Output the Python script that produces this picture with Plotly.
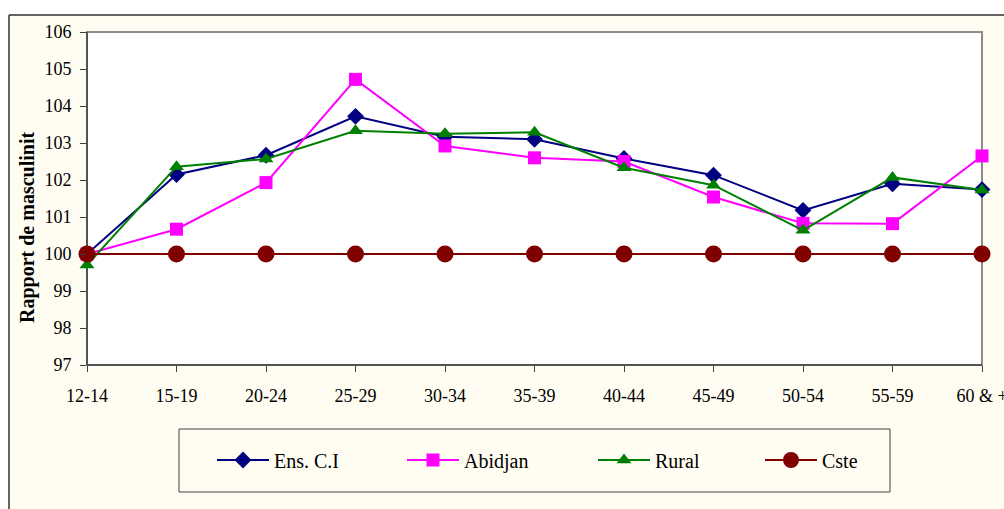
import plotly.graph_objects as go

# Age groups and sex ratios (males per 100 females)
age_groups = ["12-14", "15-19", "20-24", "25-29", "30-34", "35-39",
              "40-44", "45-49", "50-54", "55-59", "60 & +"]
ens_ci = [100.0, 102.15, 102.67, 103.72, 103.17, 103.1, 102.58, 102.13, 101.18, 101.9, 101.74]
abidjan = [100.0, 100.67, 101.93, 104.72, 102.92, 102.6, 102.5, 101.54, 100.83, 100.82, 102.65]
rural = [99.7, 102.36, 102.57, 103.33, 103.25, 103.29, 102.33, 101.86, 100.64, 102.07, 101.73]
cste = [100.0] * len(age_groups)
y_ticks = [97, 98, 99, 100, 101, 102, 103, 104, 105, 106]

W, H = 1004, 509
L, R, T, B = 87, 982, 32, 365   # plot area in pixels


def px(x):
    return (x - L) / (R - L)


def py(y):
    return (B - y) / (B - T)


SERIF = "Liberation Serif"
xs = list(range(len(age_groups)))

series = [
    ("Ens. C.I", ens_ci, "#000080", "diamond", 13, "legend", 212),
    ("Abidjan", abidjan, "#FF00FF", "square", 13, "legend2", 402),
    ("Rural", rural, "#008000", "triangle-up", 13, "legend3", 593),
    ("Cste", cste, "#800000", "circle", 17, "legend4", 760),
]

fig = go.Figure()
legends = {}
for name, vals, color, sym, size, leg, lx in series:
    fig.add_trace(go.Scatter(
        x=xs, y=vals, name=name, mode="lines+markers",
        line=dict(color=color, width=2),
        marker=dict(symbol=sym, size=size, color=color, line=dict(width=0)),
        cliponaxis=False, legend=leg,
    ))
    legends[leg] = dict(
        x=px(lx), xanchor="left", y=py(460), yanchor="middle",
        orientation="h", bgcolor="rgba(0,0,0,0)", borderwidth=0, itemwidth=52,
        font=dict(family=SERIF, size=20, color="black"),
    )

shapes = [
    # white surround outside the chart area
    dict(type="rect", xref="paper", yref="paper", x0=px(-5), x1=px(9), y0=py(W), y1=py(-5),
         fillcolor="white", line=dict(width=0), layer="below"),
    dict(type="rect", xref="paper", yref="paper", x0=px(-5), x1=px(W + 5), y0=py(15), y1=py(-5),
         fillcolor="white", line=dict(width=0), layer="below"),
    # chart area frame
    dict(type="line", xref="paper", yref="paper", x0=px(9), x1=px(9), y0=py(15), y1=py(W),
         line=dict(color="#303030", width=1.5)),
    dict(type="line", xref="paper", yref="paper", x0=px(9), x1=px(W + 5), y0=py(15), y1=py(15),
         line=dict(color="#303030", width=1.5)),
    # plot area frame
    dict(type="rect", xref="paper", yref="paper", x0=0, x1=1, y0=0, y1=1,
         line=dict(color="#8c8c8c", width=2), layer="below"),
    dict(type="line", xref="paper", yref="paper", x0=0, x1=0, y0=0, y1=1,
         line=dict(color="#404040", width=1.5), layer="below"),
    dict(type="line", xref="paper", yref="paper", x0=0, x1=1, y0=0, y1=0,
         line=dict(color="#404040", width=1.5), layer="below"),
    # legend box
    dict(type="rect", xref="paper", yref="paper", x0=px(179), x1=px(890), y0=py(492), y1=py(429),
         line=dict(color="#404040", width=1), fillcolor="rgba(0,0,0,0)"),
]

fig.update_layout(
    width=W, height=H,
    margin=dict(l=L, r=W - R, t=T, b=H - B, autoexpand=False),
    paper_bgcolor="#FFFDF2", plot_bgcolor="white",
    showlegend=True,
    font=dict(family=SERIF, size=18, color="black"),
    xaxis=dict(
        range=[0, len(age_groups) - 1], tickmode="array", tickvals=xs, ticktext=age_groups,
        ticks="outside", ticklen=6, tickcolor="#404040", showgrid=False, zeroline=False,
        showline=False, ticklabelstandoff=8, ticklabeloverflow="allow", automargin=False,
        tickfont=dict(family=SERIF, size=18),
    ),
    yaxis=dict(
        range=[97, 106], tickmode="array", tickvals=y_ticks, automargin=False,
        ticks="outside", ticklen=6, tickcolor="#404040", showgrid=False, zeroline=False,
        showline=False, ticklabelstandoff=5, tickfont=dict(family=SERIF, size=18),
    ),
    shapes=shapes,
    annotations=[dict(
        text="<b>Rapport de masculinit</b>", textangle=-90, showarrow=False,
        xref="paper", yref="paper", x=px(27), y=py(228), xanchor="center", yanchor="middle",
        font=dict(family=SERIF, size=20, color="black"),
    )],
    **legends,
)

fig.write_html("out.html")
